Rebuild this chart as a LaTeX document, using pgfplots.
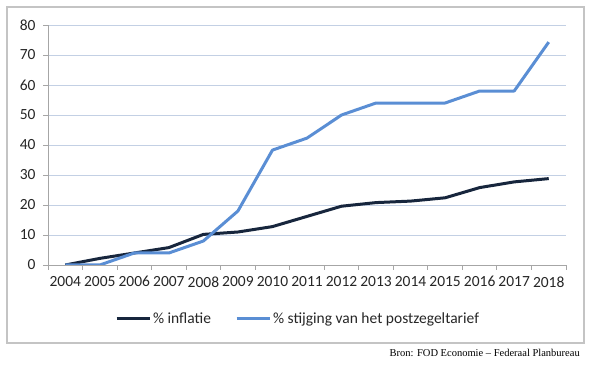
\documentclass[border=0pt]{standalone}
\usepackage{fontspec}
\setmainfont{Carlito}
\newfontfamily\srcfont{Liberation Serif}
\usepackage{pgfplots}
\pgfplotsset{compat=1.18}
\definecolor{infl}{HTML}{17263D}
\definecolor{post}{HTML}{5A8ED4}
\definecolor{gridc}{HTML}{C3D0E4}
\definecolor{axc}{HTML}{A6A6A6}
\definecolor{framec}{HTML}{C4C4C4}
\begin{document}
\begin{tikzpicture}[x=1pt,y=1pt]
\useasboundingbox (0,0) rectangle (592,366);
\draw[framec, line width=1.5pt] (7,23) rectangle (584,359);
\begin{axis}[
  at={(48pt,101pt)}, anchor=south west,
  scale only axis, width=518pt, height=240pt,
  xmin=-0.5, xmax=14.5, ymin=0, ymax=80,
  axis x line*=bottom, axis y line*=left,
  axis line style={axc, line width=0.9pt},
  xtick={-0.5,0.5,...,14.5}, xticklabels={},
  extra x ticks={0,1,...,14},
  extra x tick labels={2004,2005,2006,2007,2008,2009,2010,2011,2012,2013,2014,2015,2016,2017,2018},
  extra x tick style={major tick length=0pt, xticklabel style={yshift=-8pt}},
  ytick={0,10,...,80},
  ymajorgrids, grid style={gridc, line width=0.9pt},
  tick style={axc, line width=0.9pt},
  tick align=outside, major tick length=5pt,
  yticklabel style={xshift=-4pt},
  tick label style={font=\fontsize{15.5}{18}\selectfont, text=black!85},
  /pgf/number format/assume math mode=true,
  legend style={at={(0.4826,-0.225)}, anchor=center, draw=none, fill=none,
    legend columns=2, font=\fontsize{15.5}{18}\selectfont, text=black!85,
    /tikz/every even column/.append style={column sep=22pt}},
  legend cell align=left,
  legend image code/.code={\draw[#1, line width=3pt] (0pt,0pt) -- (33pt,0pt);},
]
\addplot[infl, line width=3pt, line join=round] coordinates {
(0,0) (1,2.2) (2,4) (3,5.8) (4,10.2) (5,11) (6,12.8) (7,16.2) (8,19.6) (9,20.8) (10,21.3) (11,22.4) (12,25.8) (13,27.7) (14,28.8)};
\addlegendentry{\% inflatie}
\addplot[post, line width=3pt, line join=round] coordinates {
(0,0) (1,0) (2,4) (3,4) (4,8) (5,18) (6,38.3) (7,42.3) (8,50) (9,54) (10,54) (11,54) (12,58) (13,58) (14,74.3)};
\addlegendentry{\% stijging van het postzegeltarief}
\end{axis}
\node[anchor=base east, font=\srcfont\fontsize{10.5}{12}\selectfont, inner sep=0pt] at (580,9) {Bron: FOD Economie – Federaal Planbureau};
\end{tikzpicture}
\end{document}
